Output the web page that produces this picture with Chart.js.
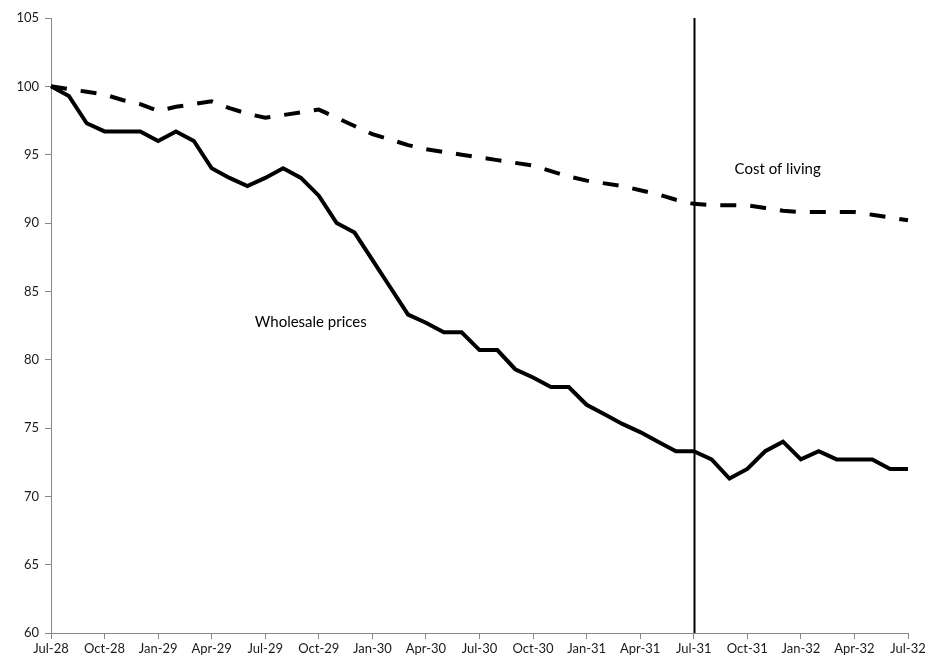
<!DOCTYPE html>
<html>
<head>
<meta charset="utf-8">
<script src="https://cdn.jsdelivr.net/npm/chart.js@4.4.1/dist/chart.umd.min.js"></script>
<style>
  html, body { margin: 0; padding: 0; background: #ffffff; }
  #wrap { width: 928px; height: 664px; position: relative; }
</style>
</head>
<body>
<div id="wrap"><canvas id="c" width="928" height="664"></canvas></div>
<script>
const months = [
  'Jul-28','Aug-28','Sep-28','Oct-28','Nov-28','Dec-28',
  'Jan-29','Feb-29','Mar-29','Apr-29','May-29','Jun-29',
  'Jul-29','Aug-29','Sep-29','Oct-29','Nov-29','Dec-29',
  'Jan-30','Feb-30','Mar-30','Apr-30','May-30','Jun-30',
  'Jul-30','Aug-30','Sep-30','Oct-30','Nov-30','Dec-30',
  'Jan-31','Feb-31','Mar-31','Apr-31','May-31','Jun-31',
  'Jul-31','Aug-31','Sep-31','Oct-31','Nov-31','Dec-31',
  'Jan-32','Feb-32','Mar-32','Apr-32','May-32','Jun-32',
  'Jul-32'
];
const wholesalePrices = [
  100.0, 99.3, 97.3, 96.7, 96.7, 96.7,
  96.0, 96.7, 96.0, 94.0, 93.3, 92.7,
  93.3, 94.0, 93.3, 92.0, 90.0, 89.3,
  87.3, 85.3, 83.3, 82.7, 82.0, 82.0,
  80.7, 80.7, 79.3, 78.7, 78.0, 78.0,
  76.7, 76.0, 75.3, 74.7, 74.0, 73.3,
  73.3, 72.7, 71.3, 72.0, 73.3, 74.0,
  72.7, 73.3, 72.7, 72.7, 72.7, 72.0,
  72.0
];
const costOfLiving = [
  100.0, 99.8, 99.6, 99.4, 99.0, 98.7,
  98.2, 98.5, 98.7, 98.9, 98.4, 98.0,
  97.7, 97.9, 98.1, 98.3, 97.7, 97.1,
  96.5, 96.1, 95.7, 95.4, 95.2, 95.0,
  94.8, 94.6, 94.4, 94.2, 93.8, 93.4,
  93.1, 92.9, 92.7, 92.4, 92.1, 91.7,
  91.4, 91.3, 91.3, 91.3, 91.1, 90.9,
  90.8, 90.8, 90.8, 90.8, 90.6, 90.4,
  90.2
];
const markerMonth = 'Jul-31';
const seriesLabels = [
  { text: 'Cost of living', at: 'Nov-31', offset: 0.7, value: 93.95 },
  { text: 'Wholesale prices', at: 'Sep-29', offset: 0.55, value: 82.75 }
];
const yMin = 60, yMax = 105, yStep = 5;

const FONT = 'Lato, "Open Sans", "Liberation Sans", sans-serif';

const overlay = {
  id: 'overlay',
  afterDatasetsDraw(chart) {
    const { ctx, chartArea, scales } = chart;
    const x = scales.x, y = scales.y;
    // vertical marker line
    const mx = Math.round(x.getPixelForValue(months.indexOf(markerMonth))) + 0.5;
    ctx.save();
    ctx.strokeStyle = '#000000';
    ctx.lineWidth = 2;
    ctx.beginPath();
    ctx.moveTo(mx, chartArea.top);
    ctx.lineTo(mx, chartArea.bottom);
    ctx.stroke();
    // series labels
    ctx.fillStyle = '#000000';
    ctx.font = '15px ' + FONT;
    ctx.textAlign = 'center';
    ctx.textBaseline = 'middle';
    seriesLabels.forEach(l => {
      const px = x.getPixelForValue(months.indexOf(l.at) + l.offset);
      const py = y.getPixelForValue(l.value);
      ctx.fillText(l.text, px, py);
    });
    ctx.restore();
  }
};

new Chart(document.getElementById('c'), {
  type: 'line',
  data: {
    labels: months,
    datasets: [
      {
        label: 'Wholesale prices',
        data: wholesalePrices,
        borderColor: '#000000',
        borderWidth: 4,
        pointRadius: 0,
        tension: 0,
        fill: false
      },
      {
        label: 'Cost of living',
        data: costOfLiving,
        borderColor: '#000000',
        borderWidth: 4,
        borderDash: [16, 14],
        pointRadius: 0,
        tension: 0,
        fill: false
      }
    ]
  },
  options: {
    responsive: false,
    animation: false,
    devicePixelRatio: 1,
    layout: { padding: { top: 18, right: 20, left: 0, bottom: 0 } },
    plugins: {
      legend: { display: false },
      tooltip: { enabled: false }
    },
    scales: {
      x: {
        type: 'category',
        offset: false,
        border: { display: true, color: '#868686', width: 1 },
        grid: { display: true, drawOnChartArea: false, drawTicks: true, tickLength: 6, color: '#868686' },
        ticks: {
          autoSkip: false,
          maxRotation: 0,
          color: '#1a1a1a',
          font: { family: FONT, size: 13 },
          padding: 2,
          callback: function(value, index) {
            return index % 3 === 0 ? months[index] : null;
          }
        },
        afterFit(scale) { scale.height = 31; }
      },
      y: {
        min: yMin,
        max: yMax,
        border: { display: true, color: '#868686', width: 1 },
        grid: { display: true, drawOnChartArea: false, drawTicks: true, tickLength: 6, color: '#868686' },
        ticks: {
          stepSize: yStep,
          color: '#1a1a1a',
          font: { family: FONT, size: 13 },
          padding: 6
        },
        afterFit(scale) { scale.width = 51; }
      }
    }
  },
  plugins: [overlay]
});
</script>
</body>
</html>
